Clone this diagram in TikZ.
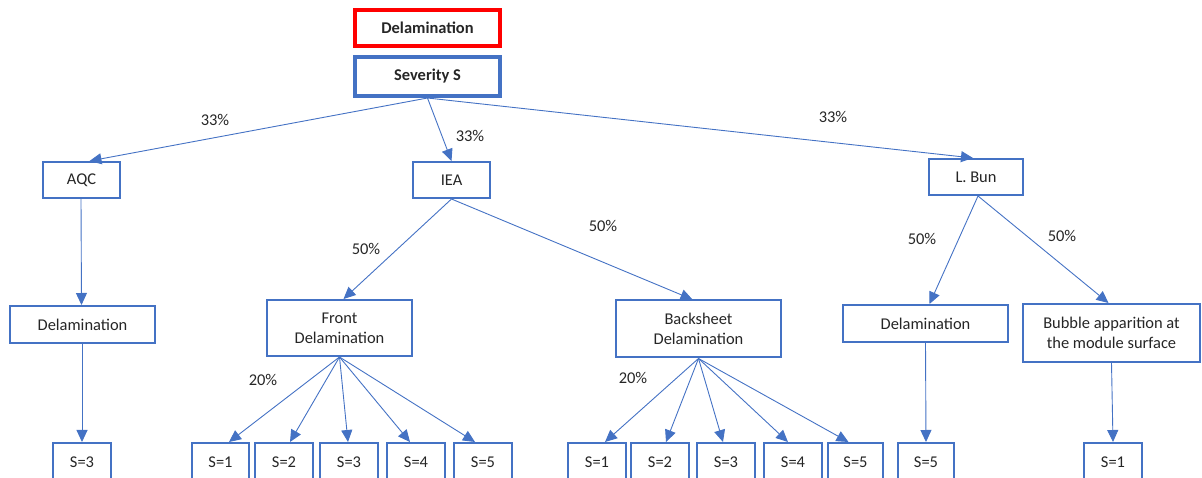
\documentclass[tikz,border=0pt]{standalone}
\usepackage{fontspec}
\setmainfont{Carlito}
\usetikzlibrary{arrows.meta}
\definecolor{boxblue}{HTML}{4472C4}
\definecolor{boxred}{HTML}{FF0000}
\definecolor{ink}{HTML}{262626}
\begin{document}
\begin{tikzpicture}[x=1bp,y=-1bp,
  box/.style={draw=boxblue, line width=2bp, fill=white, inner sep=1bp,
    align=center, text=ink, font=\fontsize{16.5}{20}\selectfont},
  titlebox/.style={box, line width=4bp, font=\bfseries\fontsize{16.5}{20}\selectfont},
  leaf/.style={box, minimum width=58bp, minimum height=38bp},
  link/.style={draw=boxblue, line width=0.9bp, -{Triangle[length=12bp,width=11bp]}},
  pct/.style={text=ink, font=\fontsize{16.5}{20}\selectfont}]
\useasboundingbox (0,0) rectangle (1202,478);
\clip (0,0) rectangle (1202,478);

% header
\node[titlebox, draw=boxred, minimum width=145bp, minimum height=36bp] (title) at (427.5,28) {Delamination};
\node[titlebox, minimum width=145bp, minimum height=39bp] (sev) at (427.5,76.5) {Severity S};

% first level
\node[box, minimum width=77bp, minimum height=36bp] (aqc) at (81.5,180) {AQC};
\node[box, minimum width=77bp, minimum height=36bp] (iea) at (451.5,180) {IEA};
\node[box, minimum width=94bp, minimum height=36bp] (bun) at (976,177) {L. Bun};

% second level
\node[box, minimum width=145bp, minimum height=37bp] (dela) at (82.5,324.5) {Delamination};
\node[box, minimum width=145bp, minimum height=56bp] (front) at (339.5,328) {Front\\Delamination};
\node[box, minimum width=165bp, minimum height=57bp] (back) at (698.5,329) {Backsheet\\Delamination};
\node[box, minimum width=165bp, minimum height=37bp] (delb) at (925.5,323.5) {Delamination};
\node[box, minimum width=177bp, minimum height=58bp] (bub) at (1111.5,333) {Bubble apparition at\\the module surface};

% severity leaves
\node[leaf] (a3) at (82,462) {S=3};
\node[leaf, minimum width=57bp] (f1) at (220.5,462) {S=1};
\node[leaf] (f2) at (284,462) {S=2};
\node[leaf] (f3) at (349,462) {S=3};
\node[leaf] (f4) at (416,462) {S=4};
\node[leaf] (f5) at (483,462) {S=5};
\node[leaf] (b1) at (597,462) {S=1};
\node[leaf] (b2) at (660,462) {S=2};
\node[leaf] (b3) at (726,462) {S=3};
\node[leaf] (b4) at (793,462) {S=4};
\node[leaf, minimum width=55bp] (b5) at (855.5,462) {S=5};
\node[leaf, minimum width=56bp] (l5) at (926,462) {S=5};
\node[leaf] (u1) at (1113,462) {S=1};

% connectors
\draw[link] (sev.south) -- ([xshift=8bp]aqc.north);
\draw[link] (sev.south) -- (iea.north);
\draw[link] (sev.south) -- ([xshift=-3bp]bun.north);

\draw[link] ([xshift=-0.5bp]aqc.south) -- ([xshift=-1bp]dela.north);
\draw[link] ([xshift=-0.5bp]dela.south) -- (a3.north);

\draw[link] (iea.south) -- ([xshift=4bp]front.north);
\draw[link] (iea.south) -- ([xshift=-6bp]back.north);

\draw[link] ([xshift=2bp]bun.south) -- ([xshift=4bp]delb.north);
\draw[link] ([xshift=2bp]bun.south) -- ([xshift=-3bp]bub.north);
\draw[link] (delb.south) -- (l5.north);
\draw[link] (bub.south) -- (u1.north);

\draw[link] (front.south) -- ([xshift=8.5bp]f1.north);
\draw[link] (front.south) -- ([xshift=6bp]f2.north);
\draw[link] (front.south) -- ([xshift=-1bp]f3.north);
\draw[link] (front.south) -- ([xshift=-6bp]f4.north);
\draw[link] (front.south) -- ([xshift=-8bp]f5.north);

\draw[link] (back.south) -- ([xshift=8bp]b1.north);
\draw[link] (back.south) -- ([xshift=6bp]b2.north);
\draw[link] (back.south) -- ([xshift=-3bp]b3.north);
\draw[link] (back.south) -- ([xshift=-5bp]b4.north);
\draw[link] (back.south) -- ([xshift=-7bp]b5.north);

% branch weights
\node[pct] (p1) at (215,120) {33\%};
\node[pct] (p2) at (470,136) {33\%};
\node[pct] (p3) at (833,117) {33\%};
\node[pct] (p4) at (366,249) {50\%};
\node[pct] (p5) at (603,226) {50\%};
\node[pct] (p6) at (922,239) {50\%};
\node[pct] (p7) at (1062,236) {50\%};
\node[pct] (p8) at (263,380) {20\%};
\node[pct] (p9) at (633,378) {20\%};
\end{tikzpicture}
\end{document}
